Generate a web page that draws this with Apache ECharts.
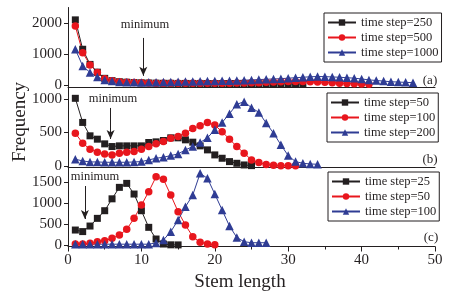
<!DOCTYPE html>
<html>
<head>
<meta charset="utf-8">
<script src="https://cdn.jsdelivr.net/npm/echarts@6/dist/echarts.min.js"></script>
<style>
html, body { margin: 0; padding: 0; background: #fff; }
#chart { width: 476px; height: 298px; }
</style>
</head>
<body>
<div id="chart"></div>
<script>
// 数据：每个面板的频数（茎长从 1 开始，步长 1）
var stemTicks = [0, 10, 20, 30, 40, 50];
var yTicksA = [0, 1000, 2000];
var yTicksB = [0, 500, 1000];
var yTicksC = [0, 500, 1000, 1500];

// (a) time step = 250 / 500 / 1000
var a250 = [2100, 1150, 660, 410, 210, 135, 100, 85, 75, 65, 60, 55, 50, 50, 45, 45, 45, 45, 40, 40,
            40, 40, 35, 35, 35, 35, 35, 30, 30, 30, 30, 25];
var a500 = [1900, 1040, 645, 400, 200, 130, 100, 85, 75, 65, 60, 55, 50, 50, 50, 50, 50, 50, 50, 50,
            55, 55, 60, 60, 65, 70, 80, 90, 100, 105, 110, 110, 100, 90, 80, 65, 55, 45, 35, 25, 15];
var a1000 = [1150, 610, 400, 250, 160, 120, 95, 85, 80, 75, 80, 85, 90, 95, 100, 105, 110, 115, 120, 125,
             130, 135, 140, 150, 160, 170, 180, 190, 200, 215, 230, 245, 260, 270, 265, 255, 245, 230, 215, 190,
             160, 140, 120, 100, 90, 80, 70];

// (b) time step = 50 / 100 / 200
var b50 = [1010, 650, 450, 400, 330, 290, 300, 300, 300, 300, 350, 360, 380, 420, 420, 390, 355, 300, 240, 165,
           115, 65, 40, 15, 5];
var b100 = [490, 340, 250, 205, 180, 165, 190, 205, 215, 250, 290, 330, 365, 415, 440, 490, 560, 600, 650, 610,
            510, 400, 290, 190, 90, 50, 20, 10, 5, 5, 3];
var b200 = [100, 75, 60, 60, 55, 55, 55, 55, 60, 65, 90, 115, 130, 155, 180, 240, 290, 350, 420, 540,
            650, 780, 920, 960, 870, 800, 640, 490, 315, 155, 65, 40, 30, 25];

// (c) time step = 25 / 50 / 100
var c25 = [357, 320, 452, 635, 817, 1100, 1373, 1468, 1214, 817, 421, 143, 24, 5, 3];
var c50 = [24, 24, 40, 79, 103, 159, 238, 373, 635, 950, 1270, 1626, 1564, 1190, 793, 476, 198, 64, 24, 5];
var c100 = [20, 20, 20, 20, 20, 20, 20, 20, 20, 20, 20, 50, 119, 317, 595, 912, 1190, 1707, 1588, 1214,
            833, 452, 180, 79, 55, 55, 55];

var FONT = '"Liberation Serif", "Times New Roman", serif';
var INK = '#231f20';

var marks = {
    sq: { color: INK, symbol: 'rect', size: 7 },
    ci: { color: '#e8161d', symbol: 'circle', size: 7.5 },
    tr: { color: '#2f3c94', symbol: 'triangle', size: 8.5 }
};

function toPoints(vals) {
    return vals.map(function(v, i) { return [i + 1, v]; });
}

function makeSeries(name, vals, idx, kind, arrow) {
    var m = marks[kind];
    var s = {
        name: name,
        type: 'line',
        xAxisIndex: idx,
        yAxisIndex: idx,
        data: toPoints(vals),
        symbol: m.symbol,
        symbolSize: m.size,
        showAllSymbol: true,
        itemStyle: { color: m.color },
        lineStyle: { color: m.color, width: 1 },
        emphasis: { disabled: true }
    };
    if (arrow) {
        s.markLine = {
            silent: true,
            animation: false,
            symbol: ['none', 'arrow'],
            symbolSize: [6, 9],
            label: { show: false },
            lineStyle: { color: INK, width: 1, type: 'solid' },
            data: [[{ coord: arrow[0] }, { coord: arrow[1] }]]
        };
    }
    return s;
}

function makeGrid(top, height) {
    return { left: 68, width: 367, top: top, height: height };
}

function makeX(idx, showLabels) {
    return {
        type: 'value', gridIndex: idx, min: 0, max: 50, interval: 10,
        axisLine: { onZero: false, lineStyle: { color: INK, width: 1 } },
        axisTick: { show: showLabels, inside: false, length: 5, lineStyle: { color: INK } },
        minorTick: { show: showLabels, splitNumber: 2, length: 3, lineStyle: { color: INK } },
        axisLabel: {
            show: showLabels, margin: 6, color: INK, fontFamily: FONT, fontSize: 15,
            formatter: function(v) { return stemTicks.indexOf(v) >= 0 ? String(v) : ''; }
        },
        splitLine: { show: false }
    };
}

function makeY(idx, min, max, ticks) {
    return {
        type: 'value', gridIndex: idx, min: min, max: max,
        axisLine: { show: true, lineStyle: { color: INK, width: 1 } },
        axisTick: { show: true, length: 4, customValues: ticks, lineStyle: { color: INK } },
        axisLabel: {
            margin: 6, color: INK, fontFamily: FONT, fontSize: 15, customValues: ticks,
            formatter: function(v) { return String(v); }
        },
        splitLine: { show: false }
    };
}

function makeLegend(names, left, top) {
    return {
        data: names,
        orient: 'vertical',
        left: left, top: top,
        padding: [2, 3, 2, 3],
        itemGap: 0,
        itemWidth: 28, itemHeight: 8,
        borderColor: INK, borderWidth: 1,
        selectedMode: false,
        formatter: function(n) { return n.split('|')[1]; },
        textStyle: { color: INK, fontFamily: FONT, fontSize: 12.5, lineHeight: 15 }
    };
}

function label(text, x, y, size, rot) {
    return {
        type: 'text', x: x, y: y, rotation: rot || 0, silent: true,
        style: { text: text, fill: INK, font: size + 'px ' + FONT, align: 'center', verticalAlign: 'middle' }
    };
}

var chart = echarts.init(document.getElementById('chart'));

var option = {
    animation: false,
    backgroundColor: '#fff',
    grid: [makeGrid(7.5, 79.5), makeGrid(87.6, 79.7), makeGrid(166.9, 79.6)],
    xAxis: [makeX(0, false), makeX(1, false), makeX(2, true)],
    yAxis: [makeY(0, -70, 2500, yTicksA), makeY(1, -20, 1170, yTicksB), makeY(2, -35, 1860, yTicksC)],
    legend: [
        makeLegend(['a|time step=250', 'a|time step=500', 'a|time step=1000'], 324, 13),
        makeLegend(['b|time step=50', 'b|time step=100', 'b|time step=200'], 327, 93),
        makeLegend(['c|time step=25', 'c|time step=50', 'c|time step=100'], 328, 172)
    ],
    series: [
        makeSeries('a|time step=250', a250, 0, 'sq', [[10.26, 1516], [10.26, 290]]),
        makeSeries('a|time step=500', a500, 0, 'ci'),
        makeSeries('a|time step=1000', a1000, 0, 'tr'),
        makeSeries('b|time step=50', b50, 1, 'sq', [[5.8, 866], [5.8, 403]]),
        makeSeries('b|time step=100', b100, 1, 'ci'),
        makeSeries('b|time step=200', b200, 1, 'tr'),
        makeSeries('c|time step=25', c25, 2, 'sq', [[2.3, 1405], [2.3, 619]]),
        makeSeries('c|time step=50', c50, 2, 'ci'),
        makeSeries('c|time step=100', c100, 2, 'tr')
    ],
    graphic: [
        label('minimum', 145, 25, 12.5),
        label('minimum', 113, 99, 12.5),
        label('minimum', 95, 177, 12.5),
        label('(a)', 430, 81, 13),
        label('(b)', 430, 160, 13),
        label('(c)', 431, 238, 13),
        label('Frequency', 20, 122, 19, Math.PI / 2),
        label('Stem length', 240, 282, 19)
    ]
};

chart.setOption(option);

window.addEventListener('resize', function() {
    chart.resize();
});
</script>
</body>
</html>
